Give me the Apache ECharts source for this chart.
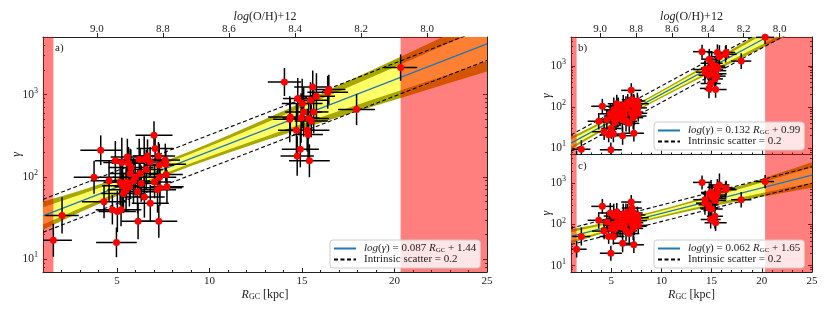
<!DOCTYPE html>
<html><head><meta charset="utf-8">
<script src="https://cdn.jsdelivr.net/npm/echarts@6/dist/echarts.min.js"></script>
<style>html,body{margin:0;padding:0;background:#fff}#c{width:830px;height:312px}</style>
</head><body><div id="c"></div>
<script>
// ---------------- data ----------------
const R = [4.12,5.56,7.06,6.20,6.65,6.47,7.24,4.91,5.26,5.62,
 5.75,6.79,7.28,7.64,6.58,6.25,5.98,7.66,3.76,4.57,
 5.17,5.52,5.30,5.67,6.11,7.03,7.32,7.19,7.70,6.48,
 6.80,4.30,4.75,5.02,5.22,6.14,7.26,4.97,1.56,2.03,
 5.49,5.35,5.89,6.31,7.61,5.71,7.00,7.30,
 14.05,15.58,14.77,15.01,15.46,15.78,16.45,16.39,15.09,15.63,
 14.37,14.34,14.95,15.36,15.50,14.70,15.28,15.33,14.91,14.74,
 15.40,17.95,20.33];
const gammaA = [211,175,221,163,180,163,179,157,150,146,
 130,152,139,142,123,110,99,107,99,90,
 86,87,78,76,66,87,74,70,76,57,
 48,50,40,38,40,29,29,16,17,34,
 70,63,89,83,160,110,321,99,
 1420,1236,895,778,853,953,1150,1066,615,615,
 535,501,520,511,479,369,369,327,217,179,
 157,658,2125];
const gammaB = [104,120,150,110,130,95,140,68,85,100,
 80,115,105,120,90,75,65,95,45,49,
 60,62,52,55,48,70,60,55,70,45,
 40,25,21,30,22,20,23,9.1,5.5,9.4,
 50,42,65,60,140,85,253,75,
 2200,2090,1450,1150,980,1660,2100,1900,620,900,
 810,700,880,760,560,590,640,480,371,282,
 265,1300,4900];
const gammaC = [275,200,250,180,200,170,190,190,160,150,
 140,160,150,145,130,120,110,125,126,114,
 100,105,95,90,85,105,90,80,95,70,
 60,69,51,80,51,35,32,20,25,51,
 85,75,100,95,170,120,350,110,
 1050,800,560,237,480,910,760,700,450,620,
 400,330,600,380,520,300,420,158,132,251,
 110,398,1100];
const xErr = [1.1,0.9,1.0,1.2,0.8,1.0,0.9,1.1,1.0,0.9,
 1.2,1.0,0.8,1.1,0.9,1.0,1.2,0.9,1.1,1.0,
 0.9,1.0,1.1,0.8,1.0,0.9,1.2,1.0,0.9,1.1,
 1.0,1.2,0.9,1.0,1.1,0.9,1.0,1.1,1.0,0.9,
 1.0,1.2,0.9,1.0,0.8,1.1,1.0,0.9,
 0.9,1.0,0.8,1.1,0.9,1.0,0.9,1.1,1.0,0.8,
 1.2,0.9,1.0,1.1,0.9,1.0,1.2,0.8,1.0,0.9,
 1.1,1.0,0.9];
const yErrDex = [0.18,0.22,0.15,0.25,0.2,0.28,0.17,0.24,0.3,0.2,
 0.22,0.18,0.26,0.2,0.24,0.3,0.22,0.19,0.2,0.25,
 0.28,0.22,0.3,0.24,0.26,0.2,0.22,0.28,0.2,0.25,
 0.22,0.2,0.18,0.25,0.2,0.22,0.2,0.18,0.2,0.22,
 0.26,0.24,0.28,0.22,0.2,0.3,0.17,0.24,
 0.17,0.2,0.25,0.3,0.22,0.28,0.18,0.2,0.3,0.26,
 0.22,0.28,0.3,0.25,0.2,0.32,0.26,0.3,0.22,0.24,
 0.2,0.19,0.16];
const fitSlope = [0.087, 0.132, 0.062];
const fitIntercept = [1.44, 0.99, 1.65];
const intrinsicScatter = 0.2;
const bandR = [1,3,5,7,9,11,13,15,17,19,21,23,25];
const outerA = [0.17,0.13,0.106,0.091,0.091,0.106,0.13,0.16,0.193,0.227,0.263,0.299,0.335];
const innerA = [0.105,0.082,0.067,0.057,0.057,0.067,0.082,0.10,0.12,0.14,0.165,0.19,0.21];
const outerB = [0.15,0.125,0.105,0.093,0.09,0.10,0.115,0.135,0.16,0.185,0.21,0.24,0.27];
const innerB = [0.09,0.075,0.063,0.056,0.054,0.06,0.07,0.08,0.096,0.11,0.126,0.144,0.16];
const outerC = [0.17,0.14,0.115,0.10,0.095,0.10,0.115,0.14,0.17,0.20,0.235,0.27,0.31];
const innerC = [0.10,0.084,0.07,0.06,0.057,0.06,0.07,0.084,0.10,0.12,0.14,0.16,0.186];
const excludedRanges = [[1, 1.56], [20.33, 25]];
const rRange = [1, 25];
const gammaRange = [7, 5000];
const ohRange = [9.163, 7.819]; // log(O/H)+12 at R = 1 and R = 25
const xTicks = [5, 10, 15, 20, 25];
const xMinorTicks = [2,3,4,6,7,8,9,11,12,13,14,16,17,18,19,21,22,23,24];
const ohTicks = [9.0, 8.8, 8.6, 8.4, 8.2, 8.0];
const yTicks = [10, 100, 1000];
const yMinorTicks = [8,9,20,30,40,50,60,70,80,90,200,300,400,500,600,700,800,900,2000,3000,4000];
const panelLabels = ['a)', 'b)', 'c)'];
const fitNames = ['fitA', 'fitB', 'fitC'];
const scatterName = 'Intrinsic scatter = 0.2';
const gammas = [gammaA, gammaB, gammaC];
const outers = [outerA, outerB, outerC];
const inners = [innerA, innerB, innerC];

// ---------------- layout / style ----------------
const font = "'Liberation Serif','DejaVu Serif',serif";
const ink = '#222';
const grids = [
  {left: 43, top: 37, width: 444, height: 235},
  {left: 571, top: 37, width: 241, height: 117.5},
  {left: 571, top: 154.5, width: 241, height: 117.5}
];
const yNameGap = [20, 18, 18];
const legendPos = [{left: 330, top: 240}, {left: 654, top: 122}, {left: 654, top: 240}];
const labelPos = [{left: 55, top: 43}, {left: 578, top: 43}, {left: 578, top: 161}];

function clipPoly(pts, x0, y0, x1, y1) {
  const edges = [
    [p => p[0] >= x0, (a, b) => { const t = (x0 - a[0]) / (b[0] - a[0]); return [x0, a[1] + t * (b[1] - a[1])]; }],
    [p => p[0] <= x1, (a, b) => { const t = (x1 - a[0]) / (b[0] - a[0]); return [x1, a[1] + t * (b[1] - a[1])]; }],
    [p => p[1] >= y0, (a, b) => { const t = (y0 - a[1]) / (b[1] - a[1]); return [a[0] + t * (b[0] - a[0]), y0]; }],
    [p => p[1] <= y1, (a, b) => { const t = (y1 - a[1]) / (b[1] - a[1]); return [a[0] + t * (b[0] - a[0]), y1]; }]
  ];
  let out = pts;
  edges.forEach(([inside, inter]) => {
    const inp = out; out = [];
    for (let i = 0; i < inp.length; i++) {
      const cur = inp[i], prev = inp[(i + inp.length - 1) % inp.length];
      if (inside(cur)) { if (!inside(prev)) out.push(inter(prev, cur)); out.push(cur); }
      else if (inside(prev)) out.push(inter(prev, cur));
    }
  });
  return out;
}

const tickStyle = {color: ink, width: 1};
const xAxes = [], yAxes = [], series = [];
const nameRich = {
  i: {fontStyle: 'italic', fontFamily: font, fontSize: 12, color: ink, lineHeight: 14, verticalAlign: 'bottom'},
  n: {fontFamily: font, fontSize: 12, color: ink, lineHeight: 14, verticalAlign: 'bottom'},
  s: {fontFamily: font, fontSize: 8, color: ink, lineHeight: 10, verticalAlign: 'bottom'}
};

grids.forEach((G, g) => {
  const bottomLabels = g !== 1;
  xAxes.push({gridIndex: g, type: 'value', min: rRange[0], max: rRange[1], position: 'bottom',
    axisLine: {show: true, onZero: false, lineStyle: {color: ink, width: 1}},
    axisTick: {show: true, inside: true, length: 4, customValues: xTicks, lineStyle: tickStyle},
    axisLabel: {show: bottomLabels, customValues: xTicks, margin: 4, color: ink, fontSize: 11, fontFamily: font},
    splitLine: {show: false},
    name: bottomLabels ? '{i|R}{s|GC}{n| [kpc]}' : '', nameLocation: 'middle', nameGap: 15,
    nameMoveOverlap: false, nameTextStyle: {rich: nameRich}
  });
  xAxes.push({gridIndex: g, type: 'value', min: rRange[0], max: rRange[1], position: 'bottom',
    axisLine: {show: false, onZero: false},
    axisTick: {show: true, inside: true, length: 2, customValues: xMinorTicks, lineStyle: tickStyle},
    axisLabel: {show: false}, splitLine: {show: false}
  });
  if (g < 2) {
    xAxes.push({gridIndex: g, type: 'value', min: ohRange[1], max: ohRange[0], inverse: true, position: 'top',
      axisLine: {show: true, onZero: false, lineStyle: {color: ink, width: 1}},
      axisTick: {show: true, inside: false, length: 4, customValues: ohTicks, lineStyle: tickStyle},
      axisLabel: {show: true, customValues: ohTicks, margin: 2, color: ink, fontSize: 11, fontFamily: font,
        formatter: v => v.toFixed(1)},
      splitLine: {show: false},
      name: '{i|log}{n|(O/H)+12}', nameLocation: 'middle', nameGap: 14, nameMoveOverlap: false,
      nameTextStyle: {rich: nameRich}
    });
  } else {
    xAxes.push({gridIndex: g, type: 'value', min: rRange[0], max: rRange[1], position: 'top',
      axisLine: {show: true, onZero: false, lineStyle: {color: ink, width: 1}},
      axisTick: {show: false}, axisLabel: {show: false}, splitLine: {show: false}});
  }
  const yBase = {gridIndex: g, type: 'log', logBase: 10, min: gammaRange[0], max: gammaRange[1], splitLine: {show: false}};
  yAxes.push(Object.assign({}, yBase, {position: 'left',
    axisLine: {show: true, onZero: false, lineStyle: {color: ink, width: 1}},
    axisTick: {show: true, inside: true, length: 4, customValues: yTicks, lineStyle: tickStyle},
    axisLabel: {show: true, customValues: yTicks, margin: 5, color: ink, fontFamily: font,
      formatter: v => '{b|10}{sup|' + Math.round(Math.log10(v)) + '}',
      rich: {
        b: {fontSize: 11.5, fontFamily: font, color: ink, lineHeight: 12, verticalAlign: 'bottom'},
        sup: {fontSize: 8, fontFamily: font, color: ink, lineHeight: 8, padding: [0, 0, 6, 0], verticalAlign: 'bottom'}
      }},
    name: 'γ', nameLocation: 'middle', nameGap: yNameGap[g], nameMoveOverlap: false,
    nameTextStyle: {fontStyle: 'italic', fontFamily: font, fontSize: 12, color: ink}
  }));
  yAxes.push(Object.assign({}, yBase, {position: 'left',
    axisLine: {show: false, onZero: false},
    axisTick: {show: true, inside: true, length: 2, customValues: yMinorTicks, lineStyle: tickStyle},
    axisLabel: {show: false}}));
  yAxes.push(Object.assign({}, yBase, {position: 'right',
    axisLine: {show: true, onZero: false, lineStyle: {color: ink, width: 1}},
    axisTick: {show: true, inside: true, length: 4, customValues: yTicks, lineStyle: tickStyle},
    axisLabel: {show: false}}));
  yAxes.push(Object.assign({}, yBase, {position: 'right',
    axisLine: {show: false, onZero: false},
    axisTick: {show: true, inside: true, length: 2, customValues: yMinorTicks, lineStyle: tickStyle},
    axisLabel: {show: false}}));

  const xi = g * 3, yi = g * 4;
  const s = fitSlope[g], b = fitIntercept[g];
  const fit = r => s * r + b;
  const outer = outers[g], inner = inners[g];
  // confidence bands (custom polygons, clipped to the plot)
  series.push({type: 'custom', name: 'band' + g, xAxisIndex: xi, yAxisIndex: yi, z: 2, silent: true,
    data: [[rRange[0], rRange[1]]], encode: {x: [0, 1]},
    renderItem: (params, api) => {
      const cs = params.coordSys;
      const mk = (w, color) => {
        const up = bandR.map((r, i) => api.coord([r, Math.pow(10, fit(r) + w[i])]));
        const dn = bandR.map((r, i) => api.coord([r, Math.pow(10, fit(r) - w[i])])).reverse();
        const pts = clipPoly(up.concat(dn), cs.x, cs.y, cs.x + cs.width, cs.y + cs.height);
        return {type: 'polygon', shape: {points: pts}, style: {fill: color}};
      };
      return {type: 'group', children: [mk(outer, '#a8a800'), mk(inner, '#ffff66')]};
    }
  });
  // excluded (red) ranges
  series.push({type: 'custom', name: 'excl' + g, xAxisIndex: xi, yAxisIndex: yi, z: 3, silent: true,
    data: excludedRanges, encode: {x: [0, 1]},
    renderItem: (params, api) => {
      const cs = params.coordSys;
      const x1 = api.coord([api.value(0), 100])[0], x2 = api.coord([api.value(1), 100])[0];
      return {type: 'rect', shape: {x: x1, y: cs.y, width: x2 - x1, height: cs.height},
        style: {fill: 'rgba(255,0,0,0.5)'}};
    }
  });
  // fit line
  series.push({type: 'line', name: fitNames[g], xAxisIndex: xi, yAxisIndex: yi, z: 4, symbol: 'none',
    data: rRange.map(r => [r, Math.pow(10, fit(r))]),
    lineStyle: {color: '#1f77b4', width: 1.2}, itemStyle: {color: '#1f77b4'}});
  [1, -1].forEach(sign => {
    series.push({type: 'line', name: scatterName, xAxisIndex: xi, yAxisIndex: yi, z: 4, symbol: 'none',
      data: rRange.map(r => [r, Math.pow(10, fit(r) + sign * intrinsicScatter)]),
      lineStyle: {color: '#000', width: 1.1, type: [4, 2.5]}, itemStyle: {color: '#000'}});
  });
  // error bars
  const gam = gammas[g];
  series.push({type: 'custom', name: 'err' + g, xAxisIndex: xi, yAxisIndex: yi, z: 5, silent: true,
    data: R.map((r, i) => [r, gam[i], xErr[i], yErrDex[i]]), encode: {x: 0, y: 1},
    renderItem: (params, api) => {
      const cs = params.coordSys;
      const r = api.value(0), gv = api.value(1), xe = api.value(2), ye = api.value(3);
      const c = api.coord([r, gv]);
      const l = api.coord([r - xe, gv]), rr = api.coord([r + xe, gv]);
      const lo = api.coord([r, gv / Math.pow(10, ye)]), hi = api.coord([r, gv * Math.pow(10, ye)]);
      const x0 = cs.x, x1 = cs.x + cs.width, y0 = cs.y, y1 = cs.y + cs.height;
      const st = {stroke: '#000', lineWidth: 1.5};
      const ch = [];
      if (c[1] >= y0 && c[1] <= y1) {
        const a = Math.max(x0, l[0]), bb = Math.min(x1, rr[0]);
        if (bb > a) ch.push({type: 'line', shape: {x1: a, y1: c[1], x2: bb, y2: c[1]}, style: st});
      }
      if (c[0] >= x0 && c[0] <= x1) {
        const ya = Math.max(y0, hi[1]), yb = Math.min(y1, lo[1]);
        if (yb > ya) ch.push({type: 'line', shape: {x1: c[0], y1: ya, x2: c[0], y2: yb}, style: st});
      }
      return {type: 'group', children: ch};
    }
  });
  series.push({type: 'scatter', name: 'pts' + g, xAxisIndex: xi, yAxisIndex: yi, z: 6, silent: true,
    data: R.map((r, i) => [r, gam[i]]), symbolSize: 7, itemStyle: {color: '#ff0000', opacity: 1}});
});

const legendLabel = {
  fitA: '{i|log}{n|(}{i|γ}{n|) = 0.087 }{i|R}{s|GC}{n| + 1.44}',
  fitB: '{i|log}{n|(}{i|γ}{n|) = 0.132 }{i|R}{s|GC}{n| + 0.99}',
  fitC: '{i|log}{n|(}{i|γ}{n|) = 0.062 }{i|R}{s|GC}{n| + 1.65}'
};
legendLabel[scatterName] = '{n|Intrinsic scatter = 0.2}';
const legRich = {
  i: {fontStyle: 'italic', fontFamily: font, fontSize: 11, color: ink, lineHeight: 11, verticalAlign: 'bottom'},
  n: {fontFamily: font, fontSize: 11, color: ink, lineHeight: 11, verticalAlign: 'bottom'},
  s: {fontFamily: font, fontSize: 7, color: ink, lineHeight: 8, verticalAlign: 'bottom'}
};
const legends = grids.map((G, g) => ({
  data: [fitNames[g], scatterName], left: legendPos[g].left, top: legendPos[g].top,
  orient: 'vertical', itemGap: 0, itemWidth: 22, itemHeight: 10, selectedMode: false,
  padding: [3, 4, 3, 3], backgroundColor: 'rgba(255,255,255,0.8)', borderColor: '#cccccc',
  borderWidth: 1, borderRadius: 3, z: 10,
  itemStyle: {opacity: 0},
  formatter: name => legendLabel[name],
  textStyle: {fontFamily: font, fontSize: 11, color: ink, padding: [0, 0, 0, 3], rich: legRich}
}));

const chart = echarts.init(document.getElementById('c'), null, {renderer: 'canvas'});
chart.setOption({
  animation: false,
  backgroundColor: '#ffffff',
  grid: grids.map(G => Object.assign({containLabel: false, outerBoundsMode: 'none'}, G)),
  xAxis: xAxes,
  yAxis: yAxes,
  legend: legends,
  graphic: panelLabels.map((t, g) => ({type: 'text', left: labelPos[g].left, top: labelPos[g].top, z: 10,
    style: {text: t, font: '11px ' + font, fill: ink}})),
  series: series
});
</script></body></html>
